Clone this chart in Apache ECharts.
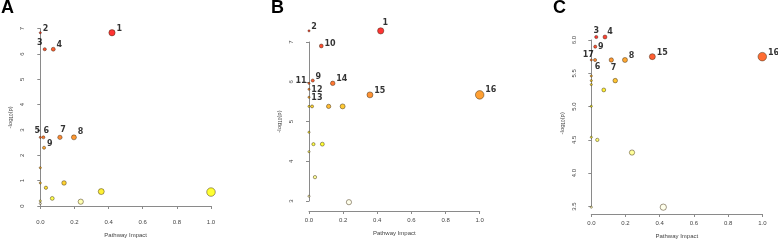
<!DOCTYPE html>
<html><head><meta charset="utf-8">
<script src="https://cdn.jsdelivr.net/npm/echarts@6/dist/echarts.min.js"></script>
<style>html,body{margin:0;padding:0;background:#fff}#c{width:778px;height:244px}</style>
</head><body><div id="c"></div>
<script>
// ---- Data ----
const panelTitles = ['A', 'B', 'C'];
const xTicks = [0, 0.2, 0.4, 0.6, 0.8, 1.0];

const impactA = [0.42, 0.0, 0.026, 0.076, 0.0, 0.018, 0.115, 0.197, 0.022, 0.0, 0.0, 0.139, 0.033, 0.357, 1.0, 0.070, 0.0, 0.237, 0.0];
const logpA   = [6.84, 6.84, 6.19, 6.19, 2.71, 2.71, 2.71, 2.71, 2.30, 1.51, 0.91, 0.91, 0.72, 0.57, 0.55, 0.30, 0.20, 0.17, 0.10];
const labelsA = ['1', '2', '3', '4', '5', '6', '7', '8', '9', '', '', '', '', '', '', '', '', '', ''];

const impactB = [0.42, 0.0, 0.072, 0.022, 0.0, 0.139, 0.0, 0.357, 1.0, 0.0, 0.115, 0.197, 0.018, 0.0, 0.0, 0.078, 0.026, 0.0, 0.035, 0.0, 0.234];
const logpB   = [7.28, 7.28, 6.90, 6.03, 5.96, 5.96, 5.81, 5.67, 5.67, 5.61, 5.38, 5.38, 5.38, 5.38, 4.73, 4.43, 4.43, 4.24, 3.60, 3.12, 2.97];
const labelsB = ['1', '2', '10', '9', '11', '14', '12', '15', '16', '13', '', '', '', '', '', '', '', '', '', '', ''];

const impactC = [0.029, 0.080, 0.023, 0.357, 1.0, 0.0, 0.022, 0.117, 0.197, 0.0, 0.140, 0.0, 0.0, 0.073, 0.0, 0.0, 0.035, 0.238, 0.0, 0.421];
const logpC   = [6.045, 6.045, 5.90, 5.75, 5.75, 5.70, 5.70, 5.70, 5.70, 5.46, 5.39, 5.39, 5.33, 5.25, 5.005, 4.54, 4.50, 4.31, 3.49, 3.49];
const labelsC = ['3', '4', '9', '15', '16', '17', '6', '7', '8', '', '', '', '', '', '', '', '', '', '', ''];

const yRangeA = [0, 7, 1];
const yRangeB = [3, 7, 1];
const yRangeC = [3.5, 6, 0.5];

// ---- Layout / style (not data) ----
const panels = [
  {impact: impactA, logp: logpA, labels: labelsA, yr: yRangeA,
   grid: {left: 40.3, top: 28.7, width: 170.7, height: 177.3}, yOff: 8, xOff: 7, yDec: 0,
   place: {'3': ['top', -5, 1], '5': ['top', -3, 0], '6': ['top', 3, 0], '7': ['top', 3, 0], '8': ['right', 0, -5]}},
  {impact: impactB, logp: logpB, labels: labelsB, yr: yRangeB,
   grid: {left: 309, top: 42, width: 170.7, height: 159}, yOff: 7.7, xOff: 10, yDec: 0,
   place: {'1': ['top', 4.5, 0], '11': ['left', 0, -2.5], '12': ['right', 0, 0.5], '13': ['right', 0, 1], '10': ['right', 0, -2], '16': ['right', 0, -5]}},
  {impact: impactC, logp: logpC, labels: labelsC, yr: yRangeC,
   grid: {left: 591.3, top: 40, width: 171, height: 167.7}, yOff: 6.6, xOff: 7.5, yDec: 1,
   place: {'3': ['top', 0, 1], '4': ['right', -1, -5], '9': ['right', 0, 0], '17': ['top', -3, 1], '6': ['bottom', 2.5, 0], '7': ['bottom', 2.2, 0]}}
];

function hsv2rgb(h, s, v) {
  const i = Math.floor(h * 6), f = h * 6 - i;
  const p = v * (1 - s), q = v * (1 - f * s), t = v * (1 - (1 - f) * s);
  let r, g, b;
  switch (i % 6) {
    case 0: r = v; g = t; b = p; break;
    case 1: r = q; g = v; b = p; break;
    case 2: r = p; g = v; b = t; break;
    case 3: r = p; g = q; b = v; break;
    case 4: r = t; g = p; b = v; break;
    default: r = v; g = p; b = q;
  }
  const h2 = x => Math.round(x * 255).toString(16).padStart(2, '0');
  return '#' + h2(r) + h2(g) + h2(b);
}
// R heat.colors(n)
function heatColors(n) {
  const j = Math.floor(n / 4), i = n - j, out = [];
  for (let k = 0; k < i; k++) out.push(hsv2rgb(i > 1 ? (k / (i - 1)) / 6 : 0, 1, 1));
  for (let k = 0; k < j; k++) {
    const s0 = 1 - 1 / (2 * j), s1 = 1 / (2 * j);
    const s = j > 1 ? s0 + (s1 - s0) * k / (j - 1) : s0;
    out.push(hsv2rgb(1 / 6, s, 1));
  }
  return out;
}

const grids = [], xAxes = [], yAxes = [], series = [], titles = [];
const axisColor = '#8a8a8a', textColor = '#444';
const tickFont = {fontFamily: 'Liberation Sans', fontSize: 6, color: textColor};
const titleLefts = [1, 271, 553];

panels.forEach((p, k) => {
  grids.push(p.grid);
  titles.push({text: panelTitles[k], left: titleLefts[k], top: -1, padding: 0,
    textStyle: {fontFamily: 'Liberation Sans', fontWeight: 'bold', fontSize: 18, color: '#000'}});
  xAxes.push({gridIndex: k, type: 'value', min: 0, max: 1, interval: 0.2, offset: p.xOff,
    name: 'Pathway Impact', nameLocation: 'middle', nameGap: 19,
    nameTextStyle: {fontFamily: 'Liberation Sans', fontSize: 6, color: textColor},
    axisLine: {show: true, lineStyle: {color: axisColor, width: 1}},
    axisTick: {show: true, length: 3, lineStyle: {color: axisColor}},
    axisLabel: Object.assign({margin: 6, formatter: v => v.toFixed(1)}, tickFont),
    splitLine: {show: false}});
  yAxes.push({gridIndex: k, type: 'value', min: p.yr[0], max: p.yr[1], interval: p.yr[2], offset: p.yOff,
    name: '-log{s|10}(p)', nameLocation: 'middle', nameRotate: 90, nameGap: 18,
    nameTextStyle: {fontFamily: 'Liberation Sans', fontSize: 6, color: textColor,
      rich: {s: {fontFamily: 'Liberation Sans', fontSize: 4.5, color: textColor, padding: [3, 0, 0, 0]}}},
    axisLine: {show: true, lineStyle: {color: axisColor, width: 1}},
    axisTick: {show: true, length: 3, lineStyle: {color: axisColor}},
    axisLabel: Object.assign({margin: 7, rotate: 90, formatter: v => v.toFixed(p.yDec)}, tickFont),
    splitLine: {show: false}});

  const n = p.logp.length;
  const order = [...Array(n).keys()].sort((a, b) => (p.logp[b] - p.logp[a]) || (a - b));
  const cols = heatColors(n);
  const colorOf = [];
  order.forEach((idx, r) => colorOf[idx] = cols[r]);
  const pxPerUnit = p.grid.width;
  const data = [];
  order.forEach(idx => {
    const x = p.impact[idx], y = p.logp[idx], lab = p.labels[idx];
    const rad = (1 / 160 + (1 / 40 - 1 / 160) * Math.sqrt(x)) * pxPerUnit;
    const pl = p.place[lab] || ['right', 0, -4];
    data.push({value: [x, y], symbolSize: 2 * rad,
      itemStyle: {color: colorOf[idx], borderColor: '#3a2a10', borderWidth: 0.6},
      label: {show: lab !== '', formatter: lab, position: pl[0], distance: 1, offset: [pl[1], pl[2]],
        fontFamily: 'DejaVu Sans', fontWeight: 'bold', fontSize: 8, color: '#000'}});
  });
  series.push({type: 'scatter', xAxisIndex: k, yAxisIndex: k, clip: false, symbol: 'circle',
    data: data, emphasis: {disabled: true}, animation: false});
});

const chart = echarts.init(document.getElementById('c'), null, {renderer: 'canvas'});
chart.setOption({backgroundColor: '#fff', animation: false, title: titles,
  grid: grids, xAxis: xAxes, yAxis: yAxes, series: series});
</script></body></html>
